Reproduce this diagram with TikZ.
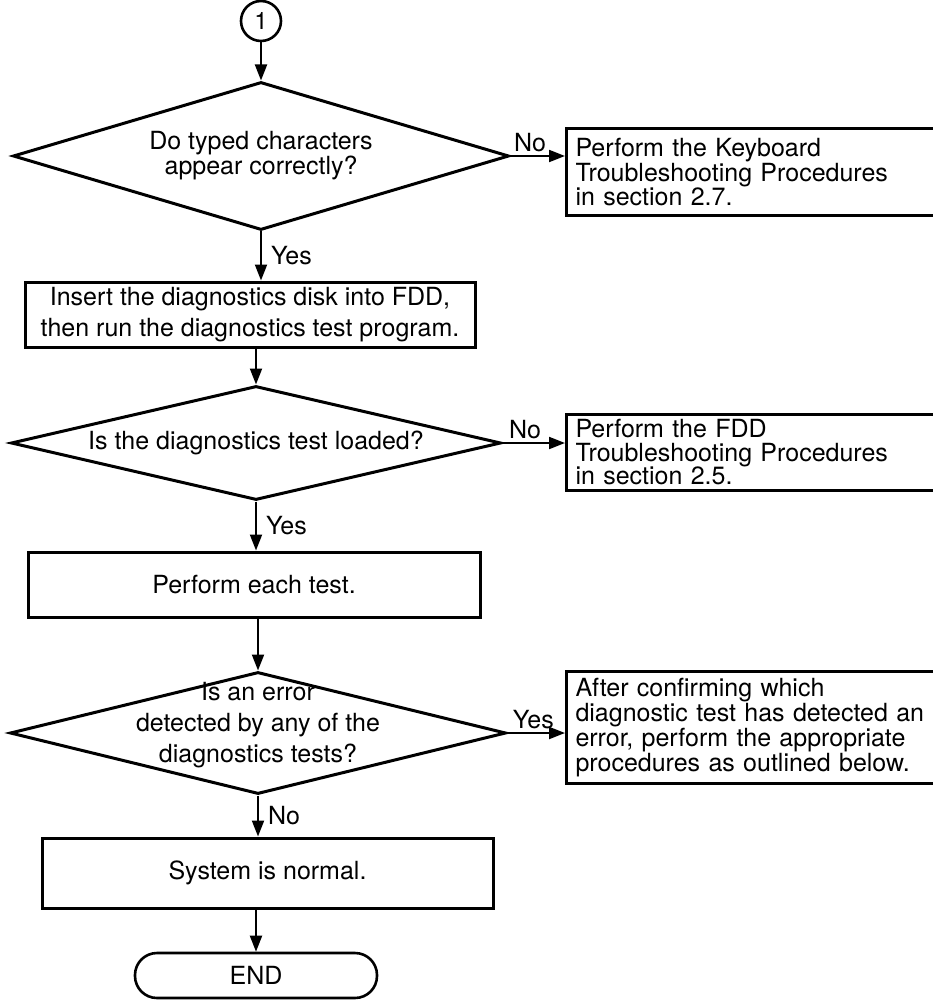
\documentclass[tikz,border=0pt]{standalone}
\usepackage{fontspec}
\setmainfont{TeX Gyre Heros}
\usepackage{tikz}
\usetikzlibrary{positioning,arrows.meta,shapes.geometric}

\begin{document}
\begin{tikzpicture}[
  x=1pt, y=-1pt,
  flow/.style={line width=2pt, -{Triangle[length=16pt,width=12pt]}},
  decision/.style={diamond, draw, line width=3pt, inner sep=0pt},
  procbox/.style={rectangle, draw, line width=3pt, align=center, inner sep=0pt},
  notebox/.style={rectangle, draw, line width=3pt, anchor=north west,
    align=left, text width=400pt, inner xsep=9pt, inner ysep=0pt},
  qtext/.style={align=center, inner sep=0pt},
  lbl/.style={font=\fontsize{25}{26}\selectfont, inner sep=2pt}
]
  \useasboundingbox (0,0) rectangle (933,1000);
  \clip (0,0) rectangle (933,1000);

  % Connector from the previous page
  \node[circle, draw, line width=2.6pt, minimum size=40, inner sep=0pt,
    font=\fontsize{24}{24}\selectfont] (c1) at (261,21) {1};

  % Keyboard check
  \node[decision, minimum width=496, minimum height=148,
    label={[qtext, font=\fontsize{25}{21}\selectfont]center:{Do typed characters\\appear correctly?}}]
    (d1) at (261,156) {};
  \node[notebox, minimum height=87, font=\fontsize{25}{23}\selectfont]
    (kbd) at (565,127) {Perform the Keyboard\\Troubleshooting Procedures\\in section 2.7.\\[3pt]};

  % Diagnostics disk
  \node[procbox, minimum width=450, minimum height=65, font=\fontsize{25}{31}\selectfont]
    (b2) at (250,314.5) {Insert the diagnostics disk into FDD,\\then run the diagnostics test program.};

  % Test loaded?
  \node[decision, minimum width=490, minimum height=114,
    label={[qtext, font=\fontsize{25}{26}\selectfont]center:{Is the diagnostics test loaded?}}]
    (d2) at (256,443) {};
  \node[notebox, minimum height=76, font=\fontsize{25}{23.5}\selectfont]
    (fdd) at (565,413) {Perform the FDD\\Troubleshooting Procedures\\in section 2.5.};

  % Each test
  \node[procbox, minimum width=452, minimum height=65, font=\fontsize{25}{30}\selectfont]
    (b3) at (254,584.5) {Perform each test.};

  % Error detected?
  \node[decision, minimum width=496, minimum height=122,
    label={[qtext, yshift=8pt, font=\fontsize{25}{31}\selectfont]center:{Is an error\\detected by any of the\\diagnostics tests?}}]
    (d3) at (258,733) {};
  \node[notebox, minimum height=112, font=\fontsize{25}{25}\selectfont]
    (err) at (565,670) {After confirming which\\diagnostic test has detected an\\error, perform the appropriate\\procedures as outlined below.};

  % Normal end
  \node[procbox, minimum width=451, minimum height=70, font=\fontsize{25}{30}\selectfont]
    (b4) at (267.5,873) {System is normal.};
  \node[draw, line width=2.6pt, rounded corners=22pt, minimum width=242, minimum height=45,
    inner sep=0pt, font=\fontsize{25}{26}\selectfont]
    (e1) at (256,975.5) {END};

  % Main flow
  \draw[flow] (c1.south) -- (c1.south |- d1.north);
  \draw[flow] (d1.south) -- (d1.south |- b2.north) node[lbl, midway, right=7pt] {Yes};
  \draw[flow] (b2.south -| d2.north) -- (d2.north);
  \draw[flow] (d2.south) -- (d2.south |- b3.north) node[lbl, midway, right=7pt] {Yes};
  \draw[flow] (b3.south -| d3.north) -- (d3.north);
  \draw[flow] (d3.south) -- (d3.south |- b4.north) node[lbl, midway, right=7pt] {No};
  \draw[flow] (b4.south -| e1.north) -- (e1.north);

  % Side branches
  \draw[flow] (d1.east) -- (d1.east -| kbd.west) node[lbl, pos=0.36, above=1pt] {No};
  \draw[flow] (d2.east) -- (d2.east -| fdd.west) node[lbl, pos=0.36, above=1pt] {No};
  \draw[flow] (d3.east) -- (d3.east -| err.west) node[lbl, pos=0.45, above=1pt] {Yes};
\end{tikzpicture}
\end{document}
